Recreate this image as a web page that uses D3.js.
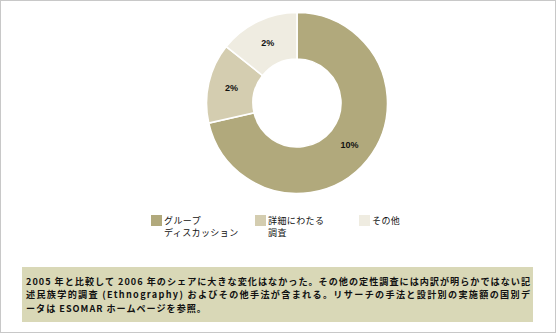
<!DOCTYPE html>
<html>
<head>
<meta charset="utf-8">
<script src="https://cdn.jsdelivr.net/npm/d3@7"></script>
<style>
  html, body { margin: 0; padding: 0; background: #fff; }
  svg { display: block; }
</style>
</head>
<body>
<svg id="chart" width="556" height="333"></svg>
<script>
// Qualitative research methods share
const categories = ["グループディスカッション", "詳細にわたる調査", "その他"];
const legendLines = [["グループ", "ディスカッション"], ["詳細にわたる", "調査"], ["その他"]];
const values = [10, 2, 2];
const valueLabels = ["10%", "2%", "2%"];
const colors = ["#b1a97c", "#d4cdb0", "#efece1"];
const noteLines = [
  "2005 年と比較して 2006 年のシェアに大きな変化はなかった。その他の定性調査には内訳が明らかではない記",
  "述民族学的調査 (Ethnography) およびその他手法が含まれる。リサーチの手法と設計別の実施額の国別デ",
  "ータは ESOMAR ホームページを参照。"
];

const W = 556, H = 333;
const svg = d3.select("#chart");

// outer frame
svg.append("rect")
  .attr("x", 0.5).attr("y", 0.5)
  .attr("width", W - 1).attr("height", H - 1)
  .attr("fill", "#fff").attr("stroke", "#c8c8c8");

const cx = 297, cy = 103, rOuter = 90.5, rInner = 44;

const pie = d3.pie().sort(null).value(d => d)(values);
const arc = d3.arc().innerRadius(rInner).outerRadius(rOuter);
const labelArc = d3.arc().innerRadius((rInner + rOuter) / 2).outerRadius((rInner + rOuter) / 2);

const g = svg.append("g").attr("transform", `translate(${cx},${cy})`);
g.selectAll("path.slice")
  .data(pie)
  .join("path")
  .attr("class", "slice")
  .attr("d", arc)
  .attr("fill", (d, i) => colors[i])
  .attr("stroke", "#fff")
  .attr("stroke-width", 1.6);

g.selectAll("text.val")
  .data(pie)
  .join("text")
  .attr("class", "val")
  .attr("transform", d => `translate(${labelArc.centroid(d)})`)
  .attr("text-anchor", "middle")
  .attr("dy", "0.35em")
  .attr("font-family", "'Liberation Sans', Arial, sans-serif")
  .attr("font-weight", "bold")
  .attr("font-size", 9)
  .attr("fill", "#111")
  .text((d, i) => valueLabels[i]);

// legend
const legendX = d3.scalePoint().domain(categories).range([151, 359]);
const lg = svg.append("g");
categories.forEach((c, i) => {
  const x = legendX(c);
  lg.append("rect")
    .attr("x", x).attr("y", 215)
    .attr("width", 11).attr("height", 11)
    .attr("fill", colors[i]);
  const t = lg.append("text")
    .attr("x", x + 13).attr("y", 224)
    .attr("font-family", "'Noto Sans CJK JP', sans-serif")
    .attr("font-size", 9)
    .attr("letter-spacing", 0.4)
    .attr("fill", "#111");
  legendLines[i].forEach((line, j) => {
    t.append("tspan").attr("x", x + 13).attr("dy", j === 0 ? 0 : 11.5).text(line);
  });
});

// note box
svg.append("rect")
  .attr("x", 22).attr("y", 267)
  .attr("width", 511).attr("height", 55)
  .attr("fill", "#d9d8b7");

// full lines are justified to the box width; the last line keeps the same spacing
const lineWidth = 504;
const nt = svg.append("g");
let extra = 0;
noteLines.forEach((line, i) => {
  const t = nt.append("text")
    .attr("x", 26).attr("y", 285 + i * 13.3)
    .attr("font-family", "'Noto Sans CJK JP', sans-serif")
    .attr("font-weight", "bold")
    .attr("font-size", 9.1)
    .attr("fill", "#111")
    .text(line);
  if (i === 0) {
    extra = (lineWidth - t.node().getComputedTextLength()) / Array.from(line).length;
  }
  if (i < noteLines.length - 1) {
    t.attr("textLength", lineWidth).attr("lengthAdjust", "spacing");
  } else {
    t.attr("letter-spacing", extra);
  }
});
</script>
</body>
</html>
